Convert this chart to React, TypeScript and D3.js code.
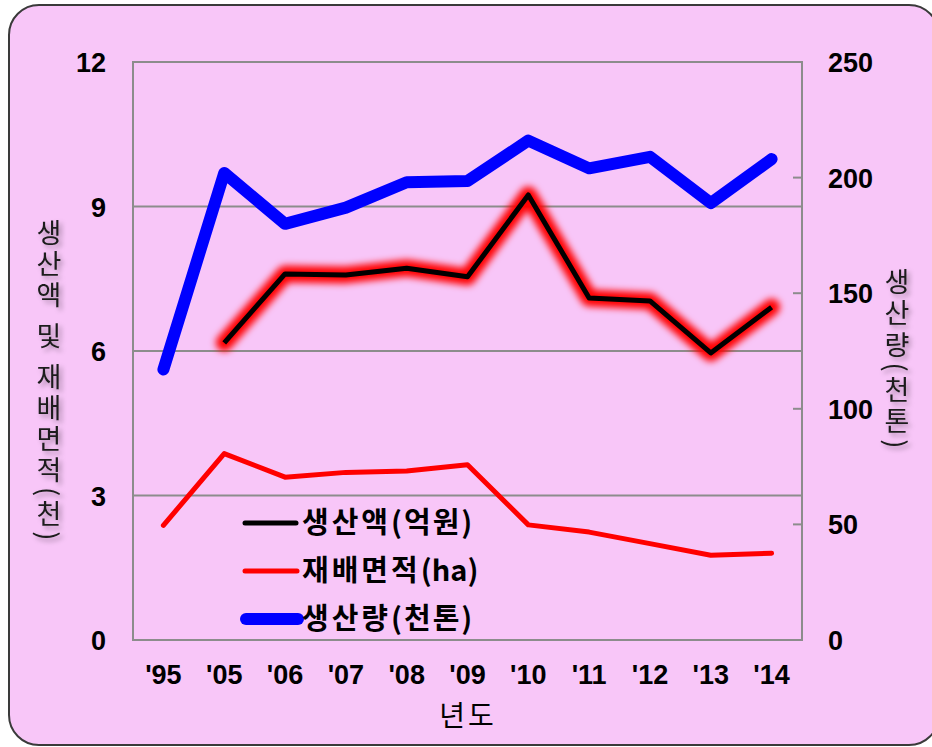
import React, { useEffect, useRef } from "react";
import * as d3 from "d3";

// data
const years = ["'95", "'05", "'06", "'07", "'08", "'09", "'10", "'11", "'12", "'13", "'14"];
const prodValue: (number | null)[] = [null, 6.17, 7.6, 7.58, 7.72, 7.54, 9.24, 7.1, 7.04, 5.96, 6.91]; // 생산액(억원)
const cultArea = [2.38, 3.87, 3.38, 3.48, 3.51, 3.64, 2.39, 2.24, 2.0, 1.76, 1.8]; // 재배면적(ha)
const prodAmount = [117, 202, 180, 187, 198, 198.5, 216, 204, 209, 189, 208]; // 생산량(천톤)
const leftTicks = [0, 3, 6, 9, 12];
const rightTicks = [0, 50, 100, 150, 200, 250];
const leftTitle = "생산액 및 재배면적(천)";
const rightTitle = "생산량(천톤)";

const FONT = "'Liberation Sans', Arial, 'Noto Sans CJK KR', sans-serif";
const KFONT = "'Noto Sans CJK KR', 'Liberation Sans', sans-serif";

const App = () => {
  const ref = useRef<SVGSVGElement>(null);

  useEffect(() => {
    const width = 932;
    const height = 747;
    const svg = d3.select(ref.current);
    svg.selectAll("*").remove();

    const defs = svg.append("defs");
    defs
      .append("filter")
      .attr("id", "glow")
      .attr("x", "-10%")
      .attr("y", "-30%")
      .attr("width", "120%")
      .attr("height", "160%")
      .append("feGaussianBlur")
      .attr("stdDeviation", 3.5);
    const sh = defs
      .append("filter")
      .attr("id", "shadow")
      .attr("x", "-50%")
      .attr("y", "-20%")
      .attr("width", "200%")
      .attr("height", "140%");
    sh.append("feDropShadow")
      .attr("dx", 3)
      .attr("dy", 3)
      .attr("stdDeviation", 2.5)
      .attr("flood-color", "#000")
      .attr("flood-opacity", 0.35);

    // background box
    svg
      .append("rect")
      .attr("x", 9)
      .attr("y", 5)
      .attr("width", 930)
      .attr("height", 740)
      .attr("rx", 30)
      .attr("fill", "#f8c6f8")
      .attr("stroke", "#3a3a3a")
      .attr("stroke-width", 2);

    const left = 133, right = 802, top = 62, bottom = 640;

    const x = d3.scaleBand().domain(years).range([left, right]);
    const yL = d3.scaleLinear().domain([0, 12]).range([bottom, top]);
    const yR = d3.scaleLinear().domain([0, 250]).range([bottom, top]);
    const cx = (d: string) => (x(d) as number) + x.bandwidth() / 2;

    // gridlines
    svg
      .append("g")
      .selectAll("line")
      .data(leftTicks.filter((t) => t > 0 && t < 12))
      .join("line")
      .attr("x1", left)
      .attr("x2", right)
      .attr("y1", (d) => yL(d))
      .attr("y2", (d) => yL(d))
      .attr("stroke", "#8c8c8c")
      .attr("stroke-width", 2);

    // plot frame
    svg
      .append("rect")
      .attr("x", left)
      .attr("y", top)
      .attr("width", right - left)
      .attr("height", bottom - top)
      .attr("fill", "none")
      .attr("stroke", "#8c8c8c")
      .attr("stroke-width", 2);

    // right axis inner ticks
    svg
      .append("g")
      .selectAll("line")
      .data(rightTicks)
      .join("line")
      .attr("x1", right - 9)
      .attr("x2", right)
      .attr("y1", (d) => yR(d))
      .attr("y2", (d) => yR(d))
      .attr("stroke", "#8c8c8c")
      .attr("stroke-width", 2);

    // tick labels
    svg
      .append("g")
      .selectAll("text")
      .data(leftTicks)
      .join("text")
      .attr("x", 106)
      .attr("y", (d) => yL(d) + 10)
      .attr("text-anchor", "end")
      .attr("font-family", FONT)
      .attr("font-weight", "bold")
      .attr("font-size", 27)
      .text((d) => d);

    svg
      .append("g")
      .selectAll("text")
      .data(rightTicks)
      .join("text")
      .attr("x", 828)
      .attr("y", (d) => yR(d) + 10)
      .attr("font-family", FONT)
      .attr("font-weight", "bold")
      .attr("font-size", 27)
      .text((d) => d);

    svg
      .append("g")
      .selectAll("text")
      .data(years)
      .join("text")
      .attr("x", (d) => cx(d))
      .attr("y", 684)
      .attr("text-anchor", "middle")
      .attr("font-family", FONT)
      .attr("font-weight", "bold")
      .attr("font-size", 27)
      .text((d) => d);

    svg
      .append("text")
      .attr("x", 468)
      .attr("y", 726)
      .attr("text-anchor", "middle")
      .attr("font-family", KFONT)
      .attr("font-size", 28)
      .attr("letter-spacing", 3)
      .text("년도");

    // vertical axis titles
    svg
      .append("text")
      .attr("x", 49)
      .attr("y", 219)
      .style("writing-mode", "vertical-rl")
      .attr("font-family", KFONT)
      .attr("font-size", 27)
      .attr("letter-spacing", 4)
      .attr("fill", "#1a1a1a")
      .attr("filter", "url(#shadow)")
      .text(leftTitle);
    svg
      .append("text")
      .attr("x", 897)
      .attr("y", 268)
      .style("writing-mode", "vertical-rl")
      .attr("font-family", KFONT)
      .attr("font-size", 27)
      .attr("letter-spacing", 4.5)
      .attr("fill", "#1a1a1a")
      .attr("filter", "url(#shadow)")
      .text(rightTitle);

    // lines
    const lineL = d3
      .line<number | null>()
      .defined((d) => d !== null)
      .x((d, i) => cx(years[i]))
      .y((d) => yL(d as number));
    const lineR = d3
      .line<number>()
      .x((d, i) => cx(years[i]))
      .y((d) => yR(d));

    svg
      .append("path")
      .datum(prodAmount)
      .attr("d", lineR)
      .attr("fill", "none")
      .attr("stroke", "#0000ff")
      .attr("stroke-width", 12)
      .attr("stroke-linecap", "round")
      .attr("stroke-linejoin", "round");

    svg
      .append("path")
      .datum(cultArea)
      .attr("d", lineL)
      .attr("fill", "none")
      .attr("stroke", "#ff0000")
      .attr("stroke-width", 5)
      .attr("stroke-linecap", "round")
      .attr("stroke-linejoin", "round");

    svg
      .append("path")
      .datum(prodValue)
      .attr("d", lineL)
      .attr("fill", "none")
      .attr("stroke", "#ff0000")
      .attr("stroke-width", 17)
      .attr("stroke-linecap", "round")
      .attr("stroke-linejoin", "round")
      .attr("filter", "url(#glow)");
    svg
      .append("path")
      .datum(prodValue)
      .attr("d", lineL)
      .attr("fill", "none")
      .attr("stroke", "#000")
      .attr("stroke-width", 5)
      .attr("stroke-linejoin", "round");

    // legend
    const legend = [
      { name: "생산액", unit: "(억원)", color: "#000", w: 5, x1: 245, x2: 296 },
      { name: "재배면적", unit: "(ha)", color: "#ff0000", w: 5, x1: 245, x2: 297 },
      { name: "생산량", unit: "(천톤)", color: "#0000ff", w: 12, x1: 246, x2: 298 },
    ];
    const lg = svg.append("g");
    legend.forEach((l, i) => {
      const y = 523 + i * 48;
      lg.append("line")
        .attr("x1", l.x1)
        .attr("x2", l.x2)
        .attr("y1", y)
        .attr("y2", y)
        .attr("stroke", l.color)
        .attr("stroke-width", l.w)
        .attr("stroke-linecap", "round");
      const t = lg
        .append("text")
        .attr("x", 302)
        .attr("y", y + 10)
        .attr("font-family", KFONT)
        .attr("font-weight", "bold")
        .attr("font-size", 29);
      t.append("tspan").attr("letter-spacing", 3).text(l.name);
      t.append("tspan")
        .attr("letter-spacing", /[a-z]/.test(l.unit) ? 0 : 2)
        .text(l.unit);
    });

    svg.attr("width", width).attr("height", height);
  }, []);

  return (
    <div>
      <svg ref={ref} style={{ position: "absolute", left: 0, top: 0 }}></svg>
    </div>
  );
};

export default App;
